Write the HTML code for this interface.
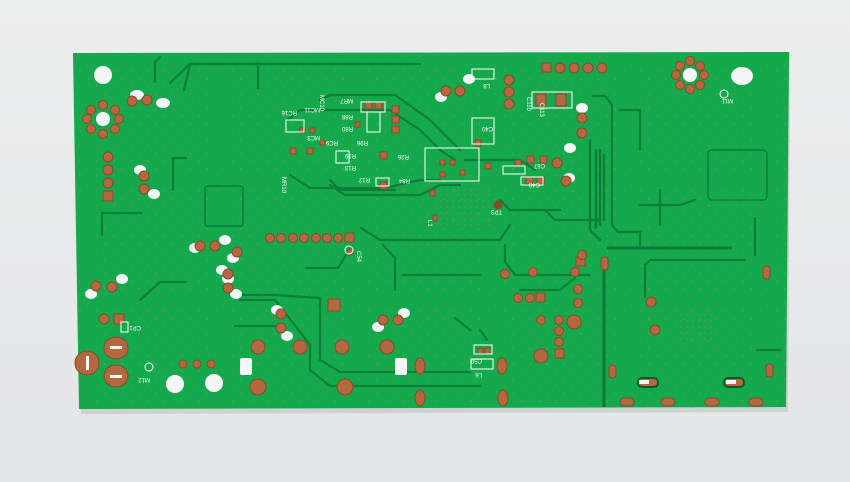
<!DOCTYPE html>
<html><head><meta charset="utf-8"><style>
html,body{margin:0;padding:0;width:850px;height:482px;overflow:hidden;background:#e9eaec}
svg{display:block}
text{font-family:"Liberation Sans",sans-serif;fill:#fff;font-size:6px}
</style></head><body>
<svg width="850" height="482" viewBox="0 0 850 482">
<defs>
<linearGradient id="bg" x1="0" y1="0" x2="0" y2="1"><stop offset="0" stop-color="#eceded"/><stop offset="1" stop-color="#e4e5e7"/></linearGradient>
<pattern id="vias" width="17" height="15" patternUnits="userSpaceOnUse">
<circle cx="3" cy="4" r="1.1" fill="#7f8a52" opacity="0.6"/><circle cx="12" cy="11" r="1.1" fill="#7f8a52" opacity="0.5"/>
</pattern>
<pattern id="grid" width="6" height="6" patternUnits="userSpaceOnUse"><circle cx="3" cy="3" r="1" fill="#7f8a52" opacity="0.6"/></pattern>
</defs>
<rect width="850" height="482" fill="url(#bg)"/>
<polygon points="74,56 790,54 788,412 81,414" fill="#cfd1d0"/>
<polygon points="73,53 789,52 786,407 79,409" fill="#14a94c"/>
<polygon points="73,53 789,52 786,407 79,409" fill="url(#vias)"/>
<rect x="440" y="185" width="50" height="40" fill="url(#grid)"/>
<rect x="680" y="310" width="36" height="30" fill="url(#grid)"/>
<g fill="none" stroke="#0b7f38" stroke-width="2.2" stroke-linecap="round">
<path d="M155,82 V62 L160,57"/><path d="M170,83 L190,64 H420"/><path d="M258,88 V63"/>
<path d="M173,190 V158 H186"/><path d="M102,235 V213 H142"/>
<path d="M140,300 L160,282 H186"/>
<path d="M184,90 L190,64"/>
<path d="M237,295 H273 L320,298 L320,360 L340,372 H470"/>
<path d="M240,300 H275 L310,345 V370 L330,386 H480"/>
<path d="M235,326 H276"/>
<path d="M306,268 H338 L346,255"/>
<path d="M361,228 L380,240 H500 L510,225"/>
<path d="M383,245 L395,258 V290"/>
<path d="M403,275 H480"/>
<path d="M505,245 V262 L515,275 H590"/>
<path d="M520,290 H560 L575,278"/>
<path d="M593,96 H605 L612,105 V225 L618,232 H640 V245"/>
<path d="M590,140 V230 L600,240"/>
<path d="M596,150 V228"/><path d="M600,150 V225"/><path d="M604,155 V220"/>
<path d="M620,110 H640 V150"/><path d="M640,205 H680 L695,200"/>
<path d="M645,297 V265 L650,260 H745"/>
<path d="M757,350 H780"/><path d="M755,218 V255"/>
<path d="M660,190 V225"/>
<path d="M480,330 L487,340"/><path d="M455,318 L470,330"/>
<path d="M288,120 L300,110 H390 L420,130 L440,150 L455,160"/>
<path d="M290,175 L310,188 H385 L420,180 H440"/>
<path d="M330,180 L340,190 H395"/>
<path d="M320,100 L330,95 H395 L430,120 L460,150"/>
<path d="M330,185 L345,195 H420 L440,185 H460"/>
<path d="M545,210 L555,220 H600"/>
<path d="M500,200 L510,210 H560"/>
<path d="M465,160 H520 L535,170"/>
</g>
<g fill="none" stroke="#0a7a34" stroke-width="3">
<path d="M604,265 V407"/><path d="M607,248 H732"/>
</g>
<rect x="205" y="186" width="38" height="40" rx="3" fill="none" stroke="#0b7f38" stroke-width="1.5"/>
<rect x="708" y="150" width="59" height="50" rx="4" fill="none" stroke="#0b7f38" stroke-width="1.5"/>
<g fill="#f4f5f5">
<circle cx="103" cy="75" r="9"/><ellipse cx="742" cy="76" rx="11" ry="9"/>
<circle cx="103" cy="119" r="7"/><circle cx="690" cy="75" r="7"/>
<circle cx="175" cy="384" r="9"/><circle cx="214" cy="383" r="9"/>
<rect x="240" y="358" width="12" height="17" rx="2"/><rect x="395" y="358" width="12" height="17" rx="2"/>
<ellipse cx="163" cy="103" rx="7" ry="5"/><ellipse cx="137" cy="95" rx="7" ry="5"/>
<ellipse cx="140" cy="170" rx="6" ry="5"/><ellipse cx="154" cy="194" rx="6" ry="5"/>
<ellipse cx="91" cy="294" rx="6" ry="5"/><ellipse cx="122" cy="279" rx="6" ry="5"/>
<ellipse cx="225" cy="240" rx="6" ry="5"/><ellipse cx="195" cy="248" rx="6" ry="5"/><ellipse cx="233" cy="258" rx="6" ry="5"/>
<ellipse cx="222" cy="270" rx="6" ry="5"/><ellipse cx="236" cy="294" rx="6" ry="5"/><ellipse cx="228" cy="279" rx="6" ry="5"/>
<ellipse cx="277" cy="310" rx="6" ry="5"/><ellipse cx="287" cy="336" rx="6" ry="5"/>
<ellipse cx="404" cy="313" rx="6" ry="5"/><ellipse cx="378" cy="327" rx="6" ry="5"/>
<ellipse cx="441" cy="97" rx="6" ry="5"/><ellipse cx="469" cy="79" rx="6" ry="5"/>
<ellipse cx="582" cy="108" rx="6" ry="5"/><ellipse cx="569" cy="178" rx="6" ry="5"/><ellipse cx="570" cy="148" rx="6" ry="5"/>
</g>
<g fill="#b4683f" stroke="#8a4a2c" stroke-width="1">
<circle cx="103" cy="105" r="4.5"/><circle cx="91" cy="110" r="4.5"/><circle cx="87" cy="119" r="4.5"/><circle cx="91" cy="129" r="4.5"/>
<circle cx="103" cy="134" r="4.5"/><circle cx="115" cy="129" r="4.5"/><circle cx="119" cy="119" r="4.5"/><circle cx="115" cy="110" r="4.5"/>
<circle cx="690" cy="61" r="4.5"/><circle cx="680" cy="66" r="4.5"/><circle cx="676" cy="75" r="4.5"/><circle cx="680" cy="85" r="4.5"/>
<circle cx="690" cy="89" r="4.5"/><circle cx="700" cy="85" r="4.5"/><circle cx="704" cy="75" r="4.5"/><circle cx="700" cy="66" r="4.5"/>
<circle cx="132" cy="101" r="5"/><circle cx="147" cy="100" r="5"/><circle cx="108" cy="157" r="5"/><circle cx="108" cy="170" r="5"/><circle cx="108" cy="183" r="5"/>
<rect x="103" y="191" width="10" height="10"/>
<circle cx="144" cy="176" r="5"/><circle cx="144" cy="189" r="5"/>
<circle cx="96" cy="286" r="5"/><circle cx="112" cy="287" r="5"/>
<circle cx="200" cy="246" r="5"/><circle cx="215" cy="246" r="5"/><circle cx="237" cy="252" r="5"/><circle cx="228" cy="274" r="5"/><circle cx="228" cy="288" r="5"/>
<circle cx="281" cy="314" r="5"/><circle cx="281" cy="328" r="5"/>
<circle cx="270" cy="238" r="4.5"/><circle cx="281" cy="238" r="4.5"/><circle cx="293" cy="238" r="4.5"/><circle cx="304" cy="238" r="4.5"/><circle cx="316" cy="238" r="4.5"/><circle cx="327" cy="238" r="4.5"/><circle cx="338" cy="238" r="4.5"/>
<rect x="345" y="233" width="9" height="9"/>
<circle cx="104" cy="319" r="5"/><rect x="114" y="314" width="10" height="10"/>
<ellipse cx="116" cy="348" rx="12" ry="11"/><ellipse cx="87" cy="363" rx="12" ry="12"/><ellipse cx="116" cy="376" rx="12" ry="11"/>
<circle cx="183" cy="364" r="4"/><circle cx="197" cy="364" r="4"/><circle cx="211" cy="364" r="4"/>
<circle cx="258" cy="347" r="7"/><circle cx="300" cy="347" r="7"/><circle cx="342" cy="347" r="7"/><circle cx="387" cy="347" r="7"/>
<circle cx="258" cy="387" r="8"/><circle cx="345" cy="387" r="8"/>
<rect x="328" y="299" width="12" height="12"/>
<circle cx="383" cy="320" r="5"/><circle cx="398" cy="320" r="5"/>
<ellipse cx="420" cy="366" rx="5" ry="8"/><ellipse cx="420" cy="398" rx="5" ry="8"/>
<ellipse cx="502" cy="366" rx="5" ry="8"/><ellipse cx="503" cy="398" rx="5" ry="8"/>
<circle cx="505" cy="274" r="4.5"/><circle cx="533" cy="272" r="4.5"/>
<circle cx="518" cy="298" r="4.5"/><circle cx="530" cy="298" r="4.5"/><rect x="536" y="293" width="9" height="9"/>
<circle cx="541" cy="320" r="4.5"/><circle cx="559" cy="320" r="4.5"/><circle cx="559" cy="331" r="4.5"/><circle cx="559" cy="342" r="4.5"/><rect x="555" y="349" width="9" height="9"/>
<circle cx="541" cy="356" r="7"/><circle cx="574" cy="322" r="7"/>
<circle cx="578" cy="289" r="4.5"/><circle cx="578" cy="303" r="4.5"/><circle cx="575" cy="272" r="4.5"/><rect x="576" y="257" width="9" height="9"/>
<circle cx="582" cy="118" r="5"/><circle cx="582" cy="133" r="5"/><circle cx="557" cy="163" r="5"/><circle cx="566" cy="181" r="5"/>
<circle cx="446" cy="91" r="5"/><circle cx="460" cy="91" r="5"/>
<circle cx="509" cy="80" r="5"/><circle cx="509" cy="92" r="5"/><circle cx="509" cy="104" r="5"/>
<rect x="542" y="63" width="9" height="9"/><circle cx="560" cy="68" r="5"/><circle cx="574" cy="68" r="5"/><circle cx="588" cy="68" r="5"/><circle cx="602" cy="68" r="5"/>
<rect x="536" y="94" width="10" height="12"/><rect x="556" y="94" width="10" height="12"/>
<circle cx="582" cy="255" r="4.5"/><circle cx="651" cy="302" r="5"/><circle cx="655" cy="330" r="5"/>
<rect x="601" y="257" width="7" height="13" rx="3"/><rect x="763" y="266" width="7" height="13" rx="3"/>
<rect x="609" y="365" width="7" height="13" rx="3"/><rect x="766" y="364" width="7" height="13" rx="3"/>
<rect x="638" y="378" width="20" height="9" rx="4" stroke="#0b5a2a" stroke-width="2"/><rect x="724" y="378" width="20" height="9" rx="4" stroke="#0b5a2a" stroke-width="2"/>
<rect x="620" y="398" width="14" height="8" rx="4"/><rect x="661" y="398" width="14" height="8" rx="4"/><rect x="705" y="398" width="14" height="8" rx="4"/><rect x="749" y="398" width="14" height="8" rx="4"/>
<circle cx="350" cy="252" r="3"/>
<rect x="478" y="348" width="5" height="6"/><rect x="485" y="348" width="5" height="6"/>
<circle cx="498" cy="205" r="4" fill="#8b4a2a"/>
<rect x="365" y="102" width="7" height="7"/><rect x="375" y="102" width="7" height="7"/><rect x="392" y="106" width="7" height="7"/><rect x="392" y="116" width="7" height="7"/><rect x="392" y="126" width="7" height="7"/>
<rect x="380" y="152" width="7" height="7"/><rect x="380" y="182" width="7" height="7"/><rect x="430" y="190" width="5" height="6"/>
<rect x="475" y="140" width="6" height="6"/><rect x="485" y="163" width="6" height="6"/><rect x="515" y="160" width="6" height="6"/>
<rect x="527" y="156" width="7" height="7"/><rect x="540" y="156" width="7" height="7"/><rect x="526" y="177" width="7" height="7"/><rect x="537" y="177" width="7" height="7"/>
<rect x="433" y="215" width="4" height="6"/><rect x="307" y="148" width="6" height="6"/><rect x="290" y="148" width="6" height="6"/>
<rect x="300" y="128" width="5" height="5"/><rect x="310" y="128" width="5" height="5"/><rect x="320" y="140" width="5" height="5"/><rect x="355" y="122" width="5" height="5"/>
<rect x="440" y="160" width="5" height="5"/><rect x="450" y="160" width="5" height="5"/><rect x="460" y="170" width="5" height="5"/><rect x="440" y="172" width="5" height="5"/>
</g>
<g fill="#f4f5f5"><rect x="110" y="346" width="12" height="3"/><rect x="86" y="356" width="3" height="14"/><rect x="110" y="375" width="12" height="3"/>
<rect x="639" y="380" width="10" height="4"/><rect x="726" y="380" width="10" height="4"/></g>
<g fill="none" stroke="#fff" stroke-width="1">
<rect x="472" y="69" width="22" height="10"/><rect x="532" y="92" width="40" height="16"/>
<rect x="472" y="118" width="22" height="26"/><rect x="425" y="148" width="54" height="33"/>
<rect x="361" y="102" width="24" height="10"/><rect x="367" y="112" width="13" height="20"/>
<rect x="336" y="151" width="13" height="12"/><rect x="376" y="178" width="13" height="8"/>
<rect x="503" y="166" width="22" height="8"/><rect x="521" y="177" width="22" height="8"/>
<rect x="474" y="345" width="18" height="9"/><rect x="471" y="359" width="22" height="10"/>
<rect x="121" y="322" width="7" height="10"/><rect x="286" y="120" width="18" height="12"/>
<circle cx="149" cy="367" r="4"/><circle cx="349" cy="250" r="4"/><circle cx="724" cy="94" r="4"/>
</g>
<g>
<text x="480" y="88" transform="rotate(180 485 86)">L8</text>
<text x="508" y="214" transform="rotate(180 505 212)">TP3</text>
<text x="141" y="330" transform="rotate(180 141 328)">CP1</text>
<text x="150" y="382" transform="rotate(180 150 380)">M12</text>
<text x="733" y="103" transform="rotate(180 733 101)">M11</text>
<text x="478" y="377" transform="rotate(180 480 375)">L6</text>
<text x="478" y="363" transform="rotate(180 480 361)">C59</text>
<text x="291" y="115" transform="rotate(180 294 113)">RC16</text>
<text x="312" y="112" transform="rotate(180 316 110)">MC11</text>
<text x="345" y="103" transform="rotate(180 349 101)">MR7</text>
<text x="345" y="119" transform="rotate(180 349 117)">R88</text>
<text x="345" y="131" transform="rotate(180 349 129)">R80</text>
<text x="348" y="158" transform="rotate(180 352 156)">R19</text>
<text x="348" y="170" transform="rotate(180 352 168)">R13</text>
<text x="362" y="182" transform="rotate(180 366 180)">R12</text>
<text x="402" y="183" transform="rotate(180 406 181)">R84</text>
<text x="401" y="159" transform="rotate(180 405 157)">R26</text>
<text x="485" y="131" transform="rotate(180 489 129)">C40</text>
<text x="532" y="187" transform="rotate(180 536 185)">C48</text>
<text x="537" y="168" transform="rotate(180 541 166)">C67</text>
<text x="312" y="140" transform="rotate(180 316 138)">MC3</text>
<text x="330" y="145" transform="rotate(180 334 143)">RC9</text>
<text x="360" y="145" transform="rotate(180 364 143)">R96</text>
<text x="540" y="103" transform="rotate(90 540 103)">C113</text>
<text x="527" y="97" transform="rotate(90 527 97)">C110</text>
<text x="428" y="220" transform="rotate(90 428 220)">L1</text>
<text x="282" y="177" transform="rotate(90 282 177)">MR10</text>
<text x="320" y="95" transform="rotate(90 320 95)">MC10</text>
<text x="357" y="251" transform="rotate(90 357 251)">C54</text>
</g>
</svg>
</body></html>
